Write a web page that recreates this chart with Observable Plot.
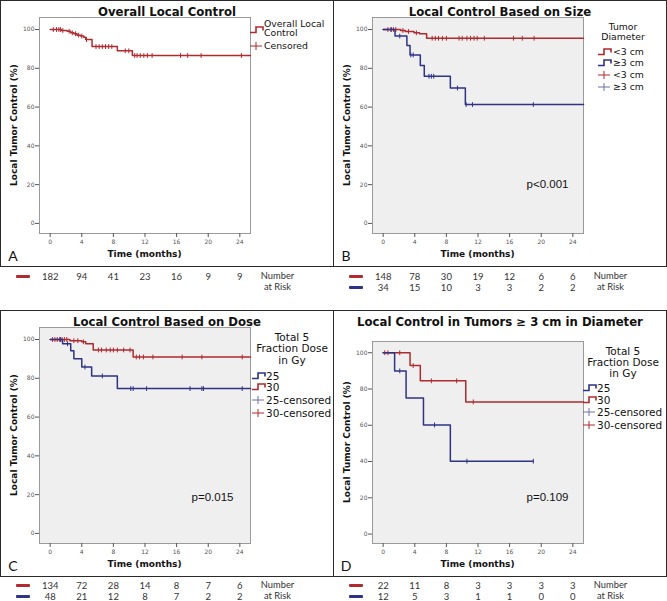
<!DOCTYPE html>
<html><head><meta charset="utf-8">
<script src="https://cdn.jsdelivr.net/npm/d3@7"></script>
<script src="https://cdn.jsdelivr.net/npm/@observablehq/plot@0.6"></script>
<style>
body{margin:0;background:#fff;}
#fig{position:relative;width:667px;height:601px;overflow:hidden;font-family:"DejaVu Sans",sans-serif;}
.abs{position:absolute;white-space:nowrap;line-height:1;}
.box{position:absolute;border:1.5px solid #2a2a2a;box-sizing:border-box;}
.vline{position:absolute;width:1.5px;background:#2a2a2a;}
</style></head><body><div id="fig"></div><script>
// ---------- shared axes ----------
const timeTicks = [0, 4, 8, 12, 16, 20, 24];
const pctTicks = [0, 20, 40, 60, 80, 100];
const tMax = 25.35;

// ---------- Panel A: overall ----------
const overallTime = [0, 1.4, 2.15, 2.6, 3.0, 3.4, 3.85, 4.25, 4.5, 5.3, 8.5, 10.4, 25.35];
const overallPct  = [100, 99.5, 99.1, 98.3, 97.8, 97.1, 96.6, 96.0, 94.8, 91.2, 89.0, 86.6, 86.6];
const overallCensor = [0.4, 0.8, 1.1, 1.3, 1.6, 2.4, 2.8, 3.2, 3.6, 4.0, 4.6, 5.8, 6.2, 6.6, 7.0, 7.4, 7.8, 9.5, 9.95, 10.7, 11.0, 11.4, 11.85, 12.3, 12.9, 16.5, 17.4, 19.1, 24.2];
const overallRisk = [182, 94, 41, 23, 16, 9, 9];

// ---------- Panel B: by size ----------
const smallTime = [0, 2.2, 2.8, 3.9, 4.6, 5.5, 25.35];
const smallPct  = [100, 99.5, 99.0, 98.3, 97.8, 95.5, 95.5];
const smallCensor = [0.6, 1.0, 1.3, 1.6, 2.5, 3.2, 4.2, 6.2, 6.6, 7.0, 7.5, 8.0, 9.6, 10.0, 10.6, 11.05, 11.5, 11.9, 12.8, 16.5, 17.6, 19.1];
const largeTime = [0, 1.5, 3.0, 3.4, 4.7, 5.2, 8.5, 10.4, 25.35];
const largePct  = [100, 96.6, 91.7, 86.9, 81.4, 75.9, 69.8, 61.3, 61.3];
const largeCensor = [1.0, 2.1, 3.5, 3.8, 5.8, 6.1, 6.4, 9.4, 10.5, 11.3, 19.0];
const smallRisk = [148, 78, 30, 19, 12, 6, 6];
const largeRisk = [34, 15, 10, 3, 3, 2, 2];

// ---------- Panel C: by dose ----------
const dose30Time = [0, 2.5, 4.0, 4.5, 5.45, 10.5, 25.35];
const dose30Pct  = [100, 99.4, 98.8, 97.8, 94.6, 91.0, 91.0];
const dose30Censor = [0.3, 0.6, 0.9, 1.2, 1.5, 1.8, 2.1, 3.0, 3.5, 4.2, 6.1, 6.5, 7.1, 7.6, 8.0, 8.5, 9.3, 10.1, 10.9, 11.3, 11.8, 13.0, 16.7, 19.2, 24.3];
const dose25Time = [0, 1.57, 2.6, 3.0, 4.0, 5.25, 8.5, 25.35];
const dose25Pct  = [100, 97.8, 94.2, 90.1, 85.8, 81.2, 74.7, 74.7];
const dose25Censor = [1.3, 2.2, 4.4, 6.6, 10.2, 10.5, 12.2, 17.7, 19.2, 19.4, 24.3];
const dose30Risk = [134, 72, 28, 14, 8, 7, 6];
const dose25Risk = [48, 21, 12, 8, 7, 2, 2];

// ---------- Panel D: tumors >= 3 cm by dose ----------
const big30Time = [0, 3.4, 4.7, 10.45, 25.35];
const big30Pct  = [100, 92.9, 84.5, 72.9, 72.9];
const big30Censor = [0.2, 0.6, 2.1, 3.8, 6.1, 9.3, 11.4];
const big25Time = [0, 1.45, 2.9, 5.1, 8.5, 19.0];
const big25Pct  = [100, 90, 75, 60.2, 40.2, 40.2];
const big25Censor = [2.1, 6.5, 10.6, 19.0];
const big30Risk = [22, 11, 8, 3, 3, 3, 3];
const big25Risk = [12, 5, 3, 1, 1, 0, 0];

// ---------- texts ----------
const titles = ["Overall Local Control", "Local Control Based on Size", "Local Control Based on Dose", "Local Control in Tumors \u2265 3 cm in Diameter"];
const panelLetters = ["A", "B", "C", "D"];
const pValues = ["p<0.001", "p=0.015", "p=0.109"];
const xTitle = "Time (months)";
const yTitle = "Local Tumor Control (%)";
const riskLabels = ["Number", "at Risk"];

const RED = "#b02a30", BLUE = "#2e3386";
const fig = document.getElementById("fig");
const W = 333, H = 266;
const xDomain = [-1.35, tMax];
const yDomain = [-5.2, 106.2];

function stepAt(times, pcts, t) {
  let v = pcts[0];
  for (let i = 0; i < times.length; i++) if (times[i] <= t) v = pcts[i];
  return v;
}
const vtick = {draw(ctx, size) { const r = Math.sqrt(size / Math.PI); ctx.moveTo(0, -r); ctx.lineTo(0, r); }};

function kmPanel({left, top, marginTop, bg, series, pValue, pdx, pdy}) {
  const marks = [Plot.frame({fill: bg, stroke: "#9a9a9a"})];
  for (const s of series) {
    const line = s.time.map((t, i) => ({t, p: s.pct[i]}));
    const cens = s.censor.map(t => ({t, p: stepAt(s.time, s.pct, t)}));
    marks.push(Plot.line(line, {x: "t", y: "p", curve: "step-after", stroke: s.color, strokeWidth: 1.5}));
    marks.push(Plot.dot(cens, {x: "t", y: "p", symbol: vtick, r: 2.4, stroke: s.color, strokeWidth: 1, fill: "none"}));
  }
  if (pValue) marks.push(Plot.text([pValue], {text: d => d, frameAnchor: "bottom-right", dx: pdx, dy: pdy, textAnchor: "end", lineAnchor: "middle", fontSize: 11.5, fontFamily: "Liberation Sans", fill: "#111"}));
  marks.push(Plot.axisX({ticks: timeTicks, tickSize: 4, tickPadding: 2, fontSize: 6, label: null}));
  marks.push(Plot.axisY({ticks: pctTicks, tickSize: 4, tickPadding: 1, fontSize: 6, label: null}));
  const svg = Plot.plot({
    width: W, height: H, marginLeft: 39, marginRight: 83, marginTop, marginBottom: 33,
    x: {domain: xDomain}, y: {domain: yDomain},
    style: {fontFamily: "DejaVu Sans", color: "#555", background: "transparent", overflow: "visible"},
    marks
  });
  svg.style.position = "absolute"; svg.style.left = left + "px"; svg.style.top = top + "px";
  fig.appendChild(svg);
}

function riskPanel({left, top, rows}) {
  const data = rows.flatMap((r, j) => timeTicks.map((t, i) => ({t, row: j, n: r.values[i]})));
  const svg = Plot.plot({
    width: W, height: 30, marginLeft: 39, marginRight: 83, marginTop: 0, marginBottom: 0,
    x: {domain: xDomain, axis: null},
    y: {type: "linear", domain: [0, 1], range: [8, 19], axis: null},
    style: {fontFamily: "Lato", color: "#333", background: "transparent", overflow: "visible"},
    marks: [Plot.text(data, {x: "t", y: "row", text: "n", fontSize: 9.5, fill: "#333"})]
  });
  svg.style.position = "absolute"; svg.style.left = left + "px"; svg.style.top = top + "px";
  fig.appendChild(svg);
  rows.forEach((r, j) => {
    const d = document.createElement("div");
    d.style.cssText = `position:absolute;left:${left + 16}px;top:${top + 8 + 11 * j - 1.5}px;width:14px;height:3px;background:${r.color};border-radius:1px`;
    fig.appendChild(d);
  });
  riskLabels.forEach((s, j) => txt(s, left + 277.5, top + 8 + 11 * j, {size: 9.3, family: "Lato", color: "#333"}));
}

function txt(str, x, y, o = {}) {
  const d = document.createElement("div");
  d.className = "abs";
  d.textContent = str;
  d.style.left = x + "px"; d.style.top = y + "px";
  d.style.fontSize = (o.size || 10) + "px";
  d.style.fontWeight = o.bold ? "bold" : "normal";
  d.style.fontFamily = o.family || '"DejaVu Sans"';
  const tx = o.anchor === "start" ? "0" : o.anchor === "end" ? "-100%" : "-50%";
  d.style.transform = `translate(${tx},-50%)` + (o.rotate ? ` rotate(${o.rotate}deg)` : "");
  d.style.color = o.color || "#111";
  fig.appendChild(d);
}

function icon(kind, color, x, y) {
  const ns = "http://www.w3.org/2000/svg";
  const s = document.createElementNS(ns, "svg");
  s.setAttribute("width", 15); s.setAttribute("height", 10);
  s.style.cssText = `position:absolute;left:${x}px;top:${y - 5}px;overflow:visible`;
  const p = document.createElementNS(ns, "path");
  p.setAttribute("d", kind === "step" ? "M0,7.5 H6 V2 H13 V5.5" : "M0,5 H12 M6,1 V9");
  p.setAttribute("fill", "none"); p.setAttribute("stroke", color);
  p.setAttribute("stroke-width", kind === "step" ? 1.6 : 1);
  s.appendChild(p); fig.appendChild(s);
}

function legend(ox, oy, {titleLines, titleX, titleY, titleStep, items, iconX, textX, size}) {
  (titleLines || []).forEach((l, i) => txt(l, ox + titleX, oy + titleY + i * titleStep, {size}));
  items.forEach(it => {
    icon(it.kind, it.color, ox + iconX, oy + it.y);
    it.label.forEach((l, i) => txt(l, ox + textX, oy + it.y + (it.label.length > 1 ? (i - 0.5) * 9.5 - 1 : 0), {size, anchor: "start"}));
  });
}

function panelTexts(i, ox, oy, frameTop) {
  txt(titles[i], ox + 167, oy + 12.7, {size: 11.7, bold: true});
  txt(xTitle, ox + 144.5, oy + 253.5, {size: 9, bold: true});
  txt(yTitle, ox + 14, oy + (frameTop + 233) / 2, {size: 9, bold: true, rotate: -90});
  txt(panelLetters[i], ox + 13, oy + 256, {size: 14, family: "Lato"});
}

// ---------- draw panels ----------
const TOP2 = 310;
kmPanel({left: 0, top: 0, marginTop: 17, bg: "#ffffff",
  series: [{time: overallTime, pct: overallPct, censor: overallCensor, color: RED}]});
kmPanel({left: 333, top: 0, marginTop: 17, bg: "#efefef",
  series: [{time: smallTime, pct: smallPct, censor: smallCensor, color: RED},
           {time: largeTime, pct: largePct, censor: largeCensor, color: BLUE}],
  pValue: pValues[0], pdx: -15, pdy: -49});
kmPanel({left: 0, top: TOP2, marginTop: 17, bg: "#efefef",
  series: [{time: dose30Time, pct: dose30Pct, censor: dose30Censor, color: RED},
           {time: dose25Time, pct: dose25Pct, censor: dose25Censor, color: BLUE}],
  pValue: pValues[1], pdx: -17, pdy: -46});
kmPanel({left: 333, top: TOP2, marginTop: 31, bg: "#efefef",
  series: [{time: big30Time, pct: big30Pct, censor: big30Censor, color: RED},
           {time: big25Time, pct: big25Pct, censor: big25Censor, color: BLUE}],
  pValue: pValues[2], pdx: -15, pdy: -46});

riskPanel({left: 0, top: 268, rows: [{values: overallRisk, color: RED}]});
riskPanel({left: 333, top: 268, rows: [{values: smallRisk, color: RED}, {values: largeRisk, color: BLUE}]});
riskPanel({left: 0, top: 577, rows: [{values: dose30Risk, color: RED}, {values: dose25Risk, color: BLUE}]});
riskPanel({left: 333, top: 577, rows: [{values: big30Risk, color: RED}, {values: big25Risk, color: BLUE}]});

panelTexts(0, 0, 0, 17);
panelTexts(1, 333, 0, 17);
panelTexts(2, 0, TOP2, 17);
panelTexts(3, 333, TOP2, 31);

// legends
legend(0, 0, {size: 9.3, iconX: 250, textX: 264, items: [
  {kind: "step", color: RED, y: 29.5, label: ["Overall Local", "Control"]},
  {kind: "cens", color: RED, y: 45.7, label: ["Censored"]}]});
legend(333, 0, {size: 9.3, titleLines: ["Tumor", "Diameter"], titleX: 290, titleY: 26.7, titleStep: 10.6, iconX: 265, textX: 280, items: [
  {kind: "step", color: RED, y: 51.7, label: ["<3 cm"]},
  {kind: "step", color: BLUE, y: 63.3, label: ["\u22653 cm"]},
  {kind: "cens", color: RED, y: 75, label: ["<3 cm"]},
  {kind: "cens", color: "#6f70a8", y: 86.7, label: ["\u22653 cm"]}]});
legend(0, TOP2, {size: 10.5, titleLines: ["Total 5", "Fraction Dose", "in Gy"], titleX: 292, titleY: 26.7, titleStep: 11.7, iconX: 252, textX: 266, items: [
  {kind: "step", color: BLUE, y: 66, label: ["25"]},
  {kind: "step", color: RED, y: 77.3, label: ["30"]},
  {kind: "cens", color: "#6f70a8", y: 90, label: ["25-censored"]},
  {kind: "cens", color: RED, y: 102.7, label: ["30-censored"]}]});
legend(333, TOP2, {size: 10.5, titleLines: ["Total 5", "Fraction Dose", "in Gy"], titleX: 290, titleY: 40.7, titleStep: 11, iconX: 250, textX: 264, items: [
  {kind: "step", color: BLUE, y: 78.3, label: ["25"]},
  {kind: "step", color: RED, y: 90, label: ["30"]},
  {kind: "cens", color: "#6f70a8", y: 102.3, label: ["25-censored"]},
  {kind: "cens", color: RED, y: 115, label: ["30-censored"]}]});

// panel boxes
function box(x, y, w, h) { const d = document.createElement("div"); d.className = "box"; d.style.cssText += `left:${x}px;top:${y}px;width:${w}px;height:${h}px`; fig.appendChild(d); }
function vline(x, y, h) { const d = document.createElement("div"); d.className = "vline"; d.style.cssText += `left:${x}px;top:${y}px;height:${h}px`; fig.appendChild(d); }
box(0, 0, 667, 267); vline(332.5, 0, 267);
box(0, 310, 667, 267); vline(332.5, 310, 267);
</script></body></html>
